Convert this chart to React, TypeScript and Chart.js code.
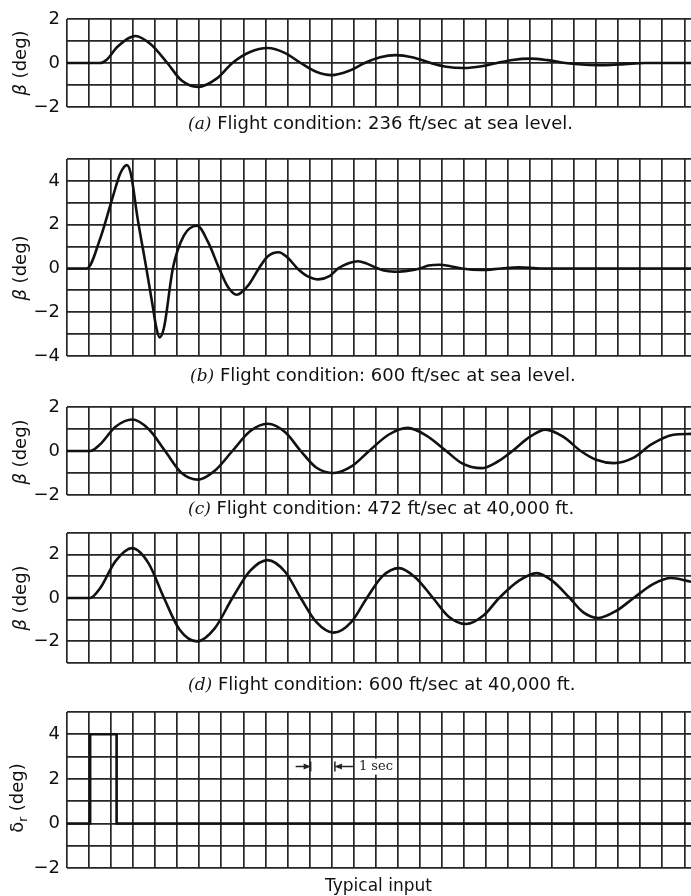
import React, { useEffect, useRef } from "react";
import { Chart, registerables } from "chart.js";

Chart.register(...registerables);

// ---- data (x in grid divisions, y in degrees) ----
const X_MAX = 28.3;

const aX = [0, 1.5, 1.8, 2.3, 3.1, 3.8, 4.55, 5.2, 5.95, 6.8, 7.5, 8.3, 9.1, 9.9, 10.6, 11.3, 12.0, 12.8, 13.5, 14.2, 14.9, 15.7, 16.5, 17.2, 18.0, 18.8, 19.5, 20.2, 21.0, 21.8, 22.6, 23.5, 24.4, 25.3, 26.2, 28.3];
const aY = [0, 0, 0.15, 0.75, 1.23, 0.85, 0, -0.8, -1.09, -0.7, 0, 0.5, 0.68, 0.45, 0, -0.4, -0.55, -0.35, 0, 0.26, 0.36, 0.25, 0, -0.17, -0.23, -0.15, 0, 0.14, 0.2, 0.13, 0, -0.08, -0.1, -0.05, 0, 0];

const bX = [0, 0.9, 1.5, 2.1, 2.4, 2.6, 2.72, 2.9, 3.2, 3.6, 3.9, 4.05, 4.2, 4.4, 4.8, 5.3, 5.9, 6.4, 6.9, 7.3, 7.7, 8.2, 8.7, 9.1, 9.6, 10.0, 10.45, 10.9, 11.4, 11.9, 12.3, 12.8, 13.2, 13.6, 14.1, 14.5, 15.0, 15.5, 16.0, 16.4, 16.9, 17.4, 17.9, 18.8, 19.7, 20.5, 21.5, 28.3];
const bY = [0, 0, 1.35, 3.35, 4.3, 4.65, 4.72, 4.3, 2.3, 0, -1.8, -2.7, -3.15, -2.7, 0, 1.5, 1.95, 1.2, 0, -0.85, -1.2, -0.8, 0, 0.55, 0.74, 0.5, 0, -0.35, -0.5, -0.35, 0, 0.25, 0.33, 0.22, 0, -0.12, -0.15, -0.1, 0, 0.13, 0.17, 0.1, 0, -0.07, 0, 0.05, 0, 0];

const cX = [0, 1.05, 1.5, 2.2, 2.95, 3.7, 4.45, 5.2, 5.95, 6.7, 7.5, 8.3, 9.1, 9.9, 10.6, 11.3, 12.1, 12.9, 13.7, 14.6, 15.45, 16.3, 17.2, 17.9, 18.8, 19.5, 20.2, 21.0, 21.7, 22.5, 23.3, 24.0, 24.8, 25.7, 26.5, 27.5, 28.3];
const cY = [0, 0, 0.3, 1.1, 1.43, 1.0, 0, -1.0, -1.3, -0.9, 0, 0.9, 1.24, 0.85, 0, -0.75, -1.0, -0.7, 0, 0.75, 1.05, 0.7, 0, -0.55, -0.78, -0.5, 0, 0.65, 0.97, 0.65, 0, -0.4, -0.55, -0.3, 0.3, 0.74, 0.78];

const dX = [0, 1.05, 1.5, 2.2, 2.95, 3.7, 4.4, 5.1, 5.9, 6.7, 7.5, 8.3, 9.1, 9.9, 10.6, 11.3, 12.1, 12.9, 13.6, 14.3, 15.05, 15.8, 16.6, 17.3, 18.1, 18.9, 19.6, 20.5, 21.3, 22.0, 22.8, 23.4, 24.1, 24.9, 25.7, 26.6, 27.4, 28.3];
const dY = [0, 0, 0.45, 1.7, 2.3, 1.6, 0, -1.45, -2.0, -1.4, 0, 1.25, 1.75, 1.2, 0, -1.1, -1.6, -1.1, 0, 1.0, 1.38, 0.95, 0, -0.85, -1.2, -0.8, 0, 0.8, 1.15, 0.8, 0, -0.65, -0.92, -0.6, 0, 0.65, 0.92, 0.75];

const eX = [0, 1.05, 1.05, 2.25, 2.25, 28.3];
const eY = [0, 0, 4, 4, 0, 0];

const MARK_FROM = 11.05;
const MARK_TO = 12.15;
const MARK_Y = 2.55;
const MARK_LABEL = "1 sec";

const CAPTIONS = [
  { tag: "(a)", text: " Flight condition: 236 ft/sec at sea level." },
  { tag: "(b)", text: " Flight condition: 600 ft/sec at sea level." },
  { tag: "(c)", text: " Flight condition: 472 ft/sec at 40,000 ft." },
  { tag: "(d)", text: " Flight condition: 600 ft/sec at 40,000 ft." },
];
const INPUT_CAPTION = "Typical input";

const FONT = '"DejaVu Sans", "Liberation Sans", sans-serif';
const GRID = "#262626";
const PAD = 18;

const fmt = (v: number) => (v < 0 ? "\u2212" + Math.abs(v) : String(v));

const markerPlugin = {
  id: "secMarker",
  afterDatasetsDraw(chart: any) {
    const { ctx, scales } = chart;
    const x1 = scales.x.getPixelForValue(MARK_FROM);
    const x2 = scales.x.getPixelForValue(MARK_TO);
    const py = scales.y.getPixelForValue(MARK_Y);
    ctx.save();
    ctx.strokeStyle = "#222";
    ctx.fillStyle = "#222";
    ctx.lineWidth = 1.5;
    ctx.beginPath();
    ctx.moveTo(x1, py - 5); ctx.lineTo(x1, py + 5);
    ctx.moveTo(x2, py - 5); ctx.lineTo(x2, py + 5);
    ctx.moveTo(x1 - 15, py); ctx.lineTo(x1, py);
    ctx.moveTo(x2 + 18, py); ctx.lineTo(x2, py);
    ctx.stroke();
    ctx.beginPath();
    ctx.moveTo(x1, py); ctx.lineTo(x1 - 7, py - 3); ctx.lineTo(x1 - 7, py + 3); ctx.closePath();
    ctx.moveTo(x2, py); ctx.lineTo(x2 + 7, py - 3); ctx.lineTo(x2 + 7, py + 3); ctx.closePath();
    ctx.fill();
    ctx.fillStyle = "#fff";
    ctx.fillRect(x2 + 21, py - 8, 36, 16);
    ctx.fillStyle = "#222";
    ctx.font = '13px "DejaVu Serif", serif';
    ctx.textBaseline = "middle";
    ctx.textAlign = "left";
    ctx.fillText(MARK_LABEL, x2 + 24, py);
    ctx.restore();
  },
};

type PanelProps = {
  xs: number[];
  ys: number[];
  yMin: number;
  yMax: number;
  areaTop: number;
  areaBottom: number;
  stepped?: boolean;
  marker?: boolean;
};

function Panel({ xs, ys, yMin, yMax, areaTop, areaBottom, stepped, marker }: PanelProps) {
  const ref = useRef<HTMLCanvasElement | null>(null);
  const top = areaTop - PAD;
  const height = areaBottom - areaTop + 2 * PAD;
  useEffect(() => {
    if (!ref.current) return;
    const chart = new Chart(ref.current, {
      type: "line",
      data: {
        datasets: [
          {
            data: xs.map((x, i) => ({ x, y: ys[i] })),
            borderColor: "#111",
            borderWidth: 2.6,
            pointRadius: 0,
            fill: false,
            tension: stepped ? 0 : 0.4,
            cubicInterpolationMode: stepped ? "default" : "monotone",
          } as any,
        ],
      },
      options: {
        animation: false,
        responsive: false,
        devicePixelRatio: 1,
        maintainAspectRatio: false,
        layout: { padding: { top: PAD, bottom: PAD, left: 0, right: 0 } },
        plugins: { legend: { display: false }, tooltip: { enabled: false } },
        scales: {
          x: {
            type: "linear",
            min: 0,
            max: X_MAX,
            ticks: { stepSize: 1, display: false, includeBounds: false, autoSkip: false },
            grid: { color: GRID, lineWidth: 1.7, drawTicks: false },
            border: { display: false },
          },
          y: {
            type: "linear",
            min: yMin,
            max: yMax,
            ticks: {
              stepSize: 1,
              autoSkip: false,
              padding: 7,
              color: "#111",
              font: { size: 18, family: FONT },
              callback: (v: any) => (Number(v) % 2 === 0 ? fmt(Number(v)) : ""),
            },
            grid: { color: GRID, lineWidth: 1.7, drawTicks: false },
            border: { display: false },
            afterFit: (s: any) => {
              s.width = 67;
            },
          },
        },
      } as any,
      plugins: marker ? [markerPlugin as any] : [],
    });
    return () => chart.destroy();
  }, []);
  return (
    <canvas
      ref={ref}
      width={691}
      height={height}
      style={{ position: "absolute", left: 0, top, width: 691, height }}
    />
  );
}

function YTitle({ cy, children }: { cy: number; children: React.ReactNode }) {
  return (
    <div
      style={{
        position: "absolute",
        left: 20,
        top: cy,
        transform: "translate(-50%, -50%) rotate(-90deg)",
        whiteSpace: "nowrap",
        fontFamily: FONT,
        fontSize: 18,
        lineHeight: "20px",
        color: "#111",
      }}
    >
      {children}
    </div>
  );
}

function Caption({ left, cy, tag, text }: { left: number; cy: number; tag: string; text: string }) {
  return (
    <div
      style={{
        position: "absolute",
        left,
        top: cy - 10,
        whiteSpace: "nowrap",
        fontFamily: FONT,
        fontSize: 18,
        lineHeight: "20px",
        color: "#111",
      }}
    >
      <span style={{ fontFamily: '"DejaVu Serif", serif', fontStyle: "italic", fontSize: 17 }}>{tag}</span>
      {text}
    </div>
  );
}

export default function App() {
  return (
    <div style={{ position: "absolute", left: 0, top: 0, width: 691, height: 896, background: "#fff", overflow: "hidden" }}>
      <Panel xs={aX} ys={aY} yMin={-2} yMax={2} areaTop={19} areaBottom={107} />
      <Panel xs={bX} ys={bY} yMin={-4} yMax={5} areaTop={159} areaBottom={356} />
      <Panel xs={cX} ys={cY} yMin={-2} yMax={2} areaTop={407} areaBottom={495} />
      <Panel xs={dX} ys={dY} yMin={-3} yMax={3} areaTop={533} areaBottom={663} />
      <Panel xs={eX} ys={eY} yMin={-2} yMax={5} areaTop={712} areaBottom={868} stepped marker />

      <YTitle cy={63}><i>β</i> (deg)</YTitle>
      <YTitle cy={268}><i>β</i> (deg)</YTitle>
      <YTitle cy={452}><i>β</i> (deg)</YTitle>
      <YTitle cy={598}><i>β</i> (deg)</YTitle>
      <YTitle cy={798}>δ<sub style={{ fontSize: 12 }}>r</sub> (deg)</YTitle>

      <Caption left={188} cy={123} tag={CAPTIONS[0].tag} text={CAPTIONS[0].text} />
      <Caption left={190} cy={375} tag={CAPTIONS[1].tag} text={CAPTIONS[1].text} />
      <Caption left={188} cy={508} tag={CAPTIONS[2].tag} text={CAPTIONS[2].text} />
      <Caption left={188} cy={684} tag={CAPTIONS[3].tag} text={CAPTIONS[3].text} />
      <div
        style={{
          position: "absolute",
          left: 325,
          top: 875,
          whiteSpace: "nowrap",
          fontFamily: FONT,
          fontSize: 17,
          lineHeight: "20px",
          color: "#111",
        }}
      >
        {INPUT_CAPTION}
      </div>
    </div>
  );
}
